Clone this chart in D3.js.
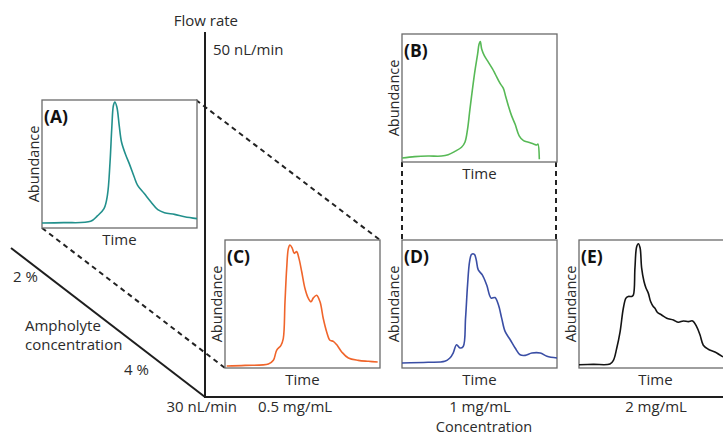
<!DOCTYPE html>
<html>
<head>
<meta charset="utf-8">
<script src="https://cdn.jsdelivr.net/npm/d3@7"></script>
<style>
  body { margin: 0; background: #fff; }
  svg { display: block; }
  text { font-family: "Open Sans", sans-serif; fill: #2b2b2b; }
</style>
</head>
<body>
<svg id="chart" width="723" height="435"></svg>
<script>
// Elution traces: [time (% of run), abundance (% of panel height)]
const traceA = [[0,0.8],[14,1.1],[31.4,2.2],[35.7,6.6],[40,12.6],[42.2,23.5],[43.9,50.8],[45,78.1],[46.1,97.3],[47,100],[48.3,95.9],[49.8,80.9],[51.3,67.2],[54.1,56.3],[56.3,49.5],[59.5,38.5],[61.7,31.7],[66,24.9],[70.3,18],[74.7,11.7],[79,9.3],[85.5,7.9],[92,6],[100,4.4]];
const traceB = [[0,0],[8.2,1.1],[16.8,1.6],[25.5,1.6],[29.8,2.7],[34.1,5.4],[38.4,8.8],[40.6,12.9],[42.3,23.6],[43.8,39.7],[45.4,55.8],[47.1,71.8],[48.8,85.3],[49.7,93.3],[50.5,95.4],[51.4,89.3],[53.1,83.9],[55.7,78.6],[58.3,73.2],[60,69.2],[63.3,61.1],[65.4,57.1],[66.9,50.4],[68.7,42.4],[70.8,34.3],[73,27.6],[75.6,18.2],[78.4,14.2],[81.6,12.9],[84.9,11.5],[87,10.7],[87.7,11.5],[88.6,-1]];
const traceC = [[1.1,-1.6],[12.9,-1.1],[28,0],[31.2,3],[33.3,11.2],[36.1,15.3],[37.6,20.8],[38.7,50.7],[39.8,78.4],[40.9,94.8],[41.9,97.5],[43.4,94.8],[44.7,90.7],[46.2,92.1],[47.7,86.6],[49.5,75.6],[51.6,61.9],[53.8,53.7],[55.5,51],[57,54.2],[59.1,56.4],[61.3,51],[63.4,37.3],[65.6,26.3],[67.7,19.5],[69.9,18.6],[72,15.9],[75.3,9.9],[79.6,4.9],[86,3],[92.5,2.2],[98.5,1.6]];
const traceD = [[0,0.8],[16.8,1.4],[27.6,2.2],[30.9,4.9],[33,9],[35.2,15.8],[37.4,13.1],[39.5,14.4],[41,37.6],[42.3,64.9],[43.6,83.9],[44.9,89.9],[46.7,89.9],[47.9,85.3],[49.2,77.1],[51.8,73],[54.6,64.9],[57.5,54],[60,54.5],[62.2,48.5],[64.3,37.6],[66.5,26.7],[69.8,19.9],[73,13.1],[76.2,7.6],[79.5,7.1],[83.8,9],[89.2,9],[93.5,6.3],[100,4.9]];
const traceE = [[0,-0.6],[9.2,-0.3],[20,0],[22.2,3],[24.3,12.7],[26.5,26.4],[28.6,45.7],[30.3,54],[31.8,55.4],[34,55.4],[35.1,56.7],[36.1,78.8],[37.2,96.1],[38.3,98.6],[39.4,95.3],[40.4,78.8],[41.9,67.8],[43.2,62.3],[44.7,58.1],[46.2,51.2],[47.9,47.1],[49,45.7],[50.5,42.4],[53.3,40.2],[56.6,37.5],[60.9,36.1],[64.1,34.2],[67.3,35.3],[70.5,34.7],[73.3,35.3],[75.9,30.6],[78.1,23.7],[80.2,15.4],[83.4,12.1],[87.7,9.9],[92.9,5.8]];

const panelLabels = ["(A)", "(B)", "(C)", "(D)", "(E)"];
const concentrationTicks = ["0.5 mg/mL", "1 mg/mL", "2 mg/mL"];
const flowTicks = ["30 nL/min", "50 nL/min"];
const ampholyteTicks = ["2 %", "4 %"];

const svg = d3.select("#chart");
svg.append("rect").attr("width", 723).attr("height", 435).attr("fill", "#fff");

const W = 155, H = 128;
const panels = [
  { trace: traceA, color: "#22908c", x: 42,  y: 100 },
  { trace: traceB, color: "#57b956", x: 402, y: 34  },
  { trace: traceC, color: "#f0652b", x: 225, y: 240 },
  { trace: traceD, color: "#3a4ea5", x: 402, y: 240 },
  { trace: traceE, color: "#141414", x: 579, y: 240 }
];

// Dashed guides linking the panels
const guides = svg.append("g")
  .attr("stroke", "#222").attr("stroke-width", 2)
  .attr("stroke-dasharray", "5,4").attr("fill", "none");
const pA = panels[0], pB = panels[1], pC = panels[2], pD = panels[3];
guides.append("line").attr("x1", pA.x + W - 1).attr("y1", pA.y)
  .attr("x2", pC.x + W).attr("y2", pC.y);
guides.append("line").attr("x1", pA.x).attr("y1", pA.y + H)
  .attr("x2", pC.x).attr("y2", pC.y + H);
guides.append("line").attr("x1", pB.x).attr("y1", pB.y + H)
  .attr("x2", pD.x).attr("y2", pD.y);
guides.append("line").attr("x1", pB.x + W - 1).attr("y1", pB.y + H)
  .attr("x2", pD.x + W - 1).attr("y2", pD.y);

// Three-way axes: flow rate (vertical), concentration (horizontal), ampholyte (diagonal)
const origin = [205, 397];
const axes = svg.append("g").attr("stroke", "#1e1e1e").attr("stroke-width", 2).attr("fill", "none");
axes.append("line").attr("x1", origin[0]).attr("y1", 32).attr("x2", origin[0]).attr("y2", origin[1]);
axes.append("line").attr("x1", origin[0] - 1).attr("y1", origin[1]).attr("x2", 723).attr("y2", origin[1]);
axes.append("line").attr("x1", 11).attr("y1", 248).attr("x2", origin[0]).attr("y2", origin[1]);

const txt = (x, y, s, anchor = "start", size = 15) =>
  svg.append("text").attr("x", x).attr("y", y).attr("text-anchor", anchor)
     .attr("font-size", size).text(s);

txt(238, 26, "Flow rate", "end");
txt(213, 55, flowTicks[1]);
txt(237, 412, flowTicks[0], "end");
txt(295, 412, concentrationTicks[0], "middle");
txt(480, 412, concentrationTicks[1], "middle");
txt(656, 412, concentrationTicks[2], "middle");
txt(484, 432, "Concentration", "middle", 14.5);
txt(13, 282, ampholyteTicks[0]);
txt(124, 375, ampholyteTicks[1]);
txt(25, 331, "Ampholyte");
txt(25, 350, "concentration");

// Trace panels
panels.forEach((p, i) => {
  const g = svg.append("g");
  const x = d3.scaleLinear().domain([0, 100]).range([p.x, p.x + W]);
  const y = d3.scaleLinear().domain([0, 100]).range([p.y + H - 4, p.y + 2]);
  g.append("rect").attr("x", p.x).attr("y", p.y).attr("width", W).attr("height", H)
    .attr("fill", "#fff").attr("stroke", "#6a6a6a").attr("stroke-width", 1.3);
  const line = d3.line().x(d => x(d[0])).y(d => y(d[1])).curve(d3.curveCatmullRom.alpha(0.5));
  g.append("path").datum(p.trace).attr("d", line)
    .attr("fill", "none").attr("stroke", p.color).attr("stroke-width", 1.6)
    .attr("stroke-linejoin", "round");
  g.append("text").attr("x", p.x + 2).attr("y", p.y + 23)
    .attr("font-size", 17.5).attr("font-weight", 700).style("fill", "#111")
    .text(panelLabels[i]);
  g.append("text").attr("transform", `translate(${p.x - 3},${p.y + H / 2}) rotate(-90)`)
    .attr("text-anchor", "middle").attr("font-size", 14.5).text("Abundance");
  g.append("text").attr("x", p.x + W / 2 - (i === 4 ? 1 : 0)).attr("y", p.y + H + 17)
    .attr("text-anchor", "middle").attr("font-size", 15).text("Time");
});
</script>
</body>
</html>
